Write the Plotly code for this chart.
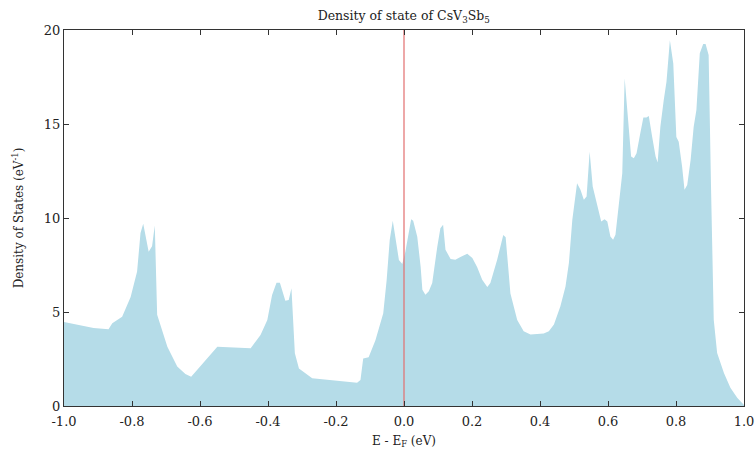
import plotly.graph_objects as go

energy = [-1.0, -0.95, -0.913, -0.869, -0.858, -0.829, -0.804, -0.785, -0.775, -0.767,
          -0.751, -0.741, -0.733, -0.726, -0.696, -0.667, -0.643, -0.626, -0.549, -0.451,
          -0.422, -0.402, -0.388, -0.375, -0.365, -0.349, -0.339, -0.331, -0.321, -0.309,
          -0.270, -0.138, -0.128, -0.120, -0.104, -0.084, -0.061, -0.051, -0.042, -0.033,
          -0.015, -0.005, 0.004, 0.021, 0.027, 0.039, 0.049, 0.054, 0.063, 0.073,
          0.083, 0.098, 0.107, 0.115, 0.122, 0.137, 0.151, 0.166, 0.186, 0.201,
          0.215, 0.230, 0.245, 0.254, 0.274, 0.292, 0.299, 0.313, 0.333, 0.352,
          0.372, 0.411, 0.426, 0.441, 0.460, 0.475, 0.485, 0.495, 0.509, 0.519,
          0.529, 0.537, 0.546, 0.555, 0.568, 0.580, 0.590, 0.598, 0.607, 0.615,
          0.622, 0.632, 0.642, 0.649, 0.659, 0.668, 0.676, 0.684, 0.694, 0.704,
          0.713, 0.720, 0.730, 0.740, 0.746, 0.754, 0.764, 0.772, 0.782, 0.792,
          0.801, 0.808, 0.818, 0.825, 0.833, 0.843, 0.852, 0.860, 0.870, 0.880,
          0.887, 0.896, 0.903, 0.911, 0.921, 0.941, 0.960, 0.980, 1.0]

dos = [4.47, 4.3, 4.15, 4.08, 4.4, 4.75, 5.8, 7.15, 9.2, 9.7,
       8.2, 8.5, 9.6, 4.85, 3.15, 2.1, 1.7, 1.56, 3.15, 3.07,
       3.78, 4.57, 5.9, 6.56, 6.56, 5.6, 5.64, 6.26, 2.8, 2.0,
       1.47, 1.24, 1.38, 2.53, 2.59, 3.5, 4.93, 6.7, 8.83, 9.86,
       7.77, 7.55, 8.2, 9.94, 9.86, 9.0, 7.4, 6.19, 5.92, 6.1,
       6.54, 8.49, 9.46, 9.64, 8.31, 7.82, 7.78, 7.92, 8.1, 7.87,
       7.39, 6.72, 6.33, 6.54, 7.78, 9.1, 8.98, 5.98, 4.57, 3.97,
       3.80, 3.85, 3.97, 4.33, 5.3, 6.36, 7.6, 9.9, 11.85, 11.5,
       10.97, 11.14, 13.53, 11.67, 10.61, 9.81, 9.94, 9.81, 9.02, 8.84,
       9.11, 10.61, 12.38, 17.43, 15.21, 13.27, 13.18, 13.45, 14.42, 15.34,
       15.34, 15.43, 14.31, 13.27, 12.95, 14.86, 16.28, 17.25, 19.46, 18.22,
       14.31, 14.06, 12.73, 11.5, 11.76, 13.09, 14.86, 15.74, 18.76, 19.25,
       19.25, 18.67, 11.65, 4.59, 2.82, 1.76, 0.97, 0.44, 0.05]

x_ticks = [-1.0, -0.8, -0.6, -0.4, -0.2, 0.0, 0.2, 0.4, 0.6, 0.8, 1.0]
x_labels = ["-1.0", "-0.8", "-0.6", "-0.4", "-0.2", "0.0", "0.2", "0.4", "0.6", "0.8", "1.0"]
y_ticks = [0, 5, 10, 15, 20]
fermi = [0.0, 0.0]
fermi_y = [0, 20]

font_family = "DejaVu Serif"
axis_color = "#333333"

fig = go.Figure()
fig.add_trace(go.Scatter(
    x=energy, y=dos, mode="lines", fill="tozeroy",
    line=dict(width=0, color="rgb(181,220,232)"),
    fillcolor="rgb(181,220,232)", showlegend=False, hoverinfo="skip"))
fig.add_trace(go.Scatter(
    x=fermi, y=fermi_y, mode="lines",
    line=dict(width=1.2, color="rgb(226,110,110)"), showlegend=False))

fig.update_layout(
    width=755, height=454,
    margin=dict(l=63.5, r=11, t=30, b=47.5, autoexpand=False),
    paper_bgcolor="white", plot_bgcolor="white",
    font=dict(family=font_family, color="#222222", size=12),
    title=dict(text="Density of state of CsV<sub>3</sub>Sb<sub>5</sub>",
               x=(63.5 + 744) / 2 / 755, xanchor="center", y=0.975, yanchor="top",
               font=dict(family=font_family, size=12.5, color="#222222")),
    xaxis=dict(range=[-1.0, 1.0], tickvals=x_ticks, ticktext=x_labels,
               ticks="inside", ticklen=5, tickcolor=axis_color, tickwidth=1,
               showline=True, linecolor=axis_color, linewidth=1.2, mirror="ticks",
               showgrid=False, zeroline=False, automargin=False,
               ticklabelstandoff=3,
               tickfont=dict(family=font_family, size=13, color="#222222"),
               title=dict(text="E - E<sub>F</sub> (eV)", standoff=8,
                          font=dict(family=font_family, size=12, color="#222222"))),
    yaxis=dict(range=[0, 20], tickvals=y_ticks,
               ticks="inside", ticklen=5, tickcolor=axis_color, tickwidth=1,
               showline=True, linecolor=axis_color, linewidth=1.2, mirror="ticks",
               showgrid=False, zeroline=False, automargin=False,
               tickfont=dict(family=font_family, size=13, color="#222222"),
               title=dict(text="Density of States (eV<sup>-1</sup>)", standoff=17,
                          font=dict(family=font_family, size=12, color="#222222"))),
)

fig.write_html("out.html")
